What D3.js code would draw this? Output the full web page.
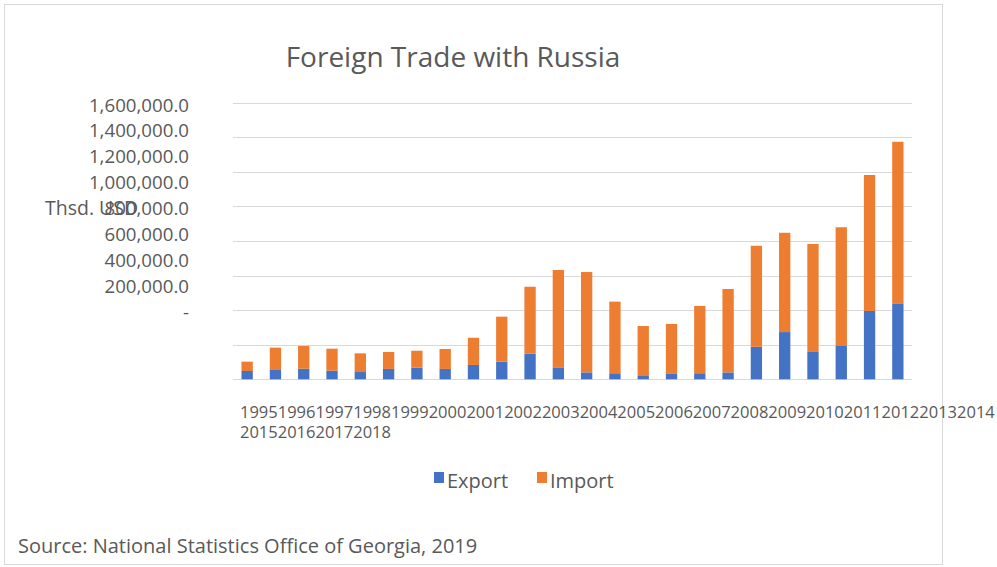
<!DOCTYPE html>
<html>
<head>
<meta charset="utf-8">
<style>
  body { margin: 0; background: #fff; }
  text { font-family: "Open Sans", sans-serif; fill: #595959; }
</style>
</head>
<body>
<div id="chart"></div>
<script src="https://cdn.jsdelivr.net/npm/d3@7"></script>
<script>
// data, thousand USD
var years = ["1995","1996","1997","1998","1999","2000","2001","2002","2003","2004","2005","2006",
             "2007","2008","2009","2010","2011","2012","2013","2014","2015","2016","2017","2018"];
var exportVals = [48000, 54000, 61000, 50000, 42000, 60000, 67000, 60000, 83000, 102000, 148000, 69000,
                  40000, 35000, 19000, 31000, 35000, 40000, 188000, 273000, 158000, 196000, 395000, 439000];
var importVals = [54000, 129000, 132000, 127000, 108000, 98000, 98000, 115000, 157000, 260000, 387000, 563000,
                  580000, 414000, 289000, 289000, 389000, 482000, 584000, 574000, 624000, 683000, 786000, 934000];
var yTicks = [0, 200000, 400000, 600000, 800000, 1000000, 1200000, 1400000, 1600000];
var seriesNames = ["Export", "Import"];
var colors = ["#4472C4", "#ED7D31"];

var W = 997, H = 567;
var svg = d3.select("#chart").append("svg").attr("width", W).attr("height", H);

// chart frame
svg.append("rect")
  .attr("x", 4.5).attr("y", 4.5).attr("width", 938).attr("height", 560)
  .attr("fill", "none").attr("stroke", "#d9d9d9");

svg.append("text")
  .attr("x", 453).attr("y", 67)
  .attr("text-anchor", "middle")
  .style("font-size", "28px")
  .text("Foreign Trade with Russia");

var x = d3.scaleBand().domain(years).range([233, 912]).paddingInner(0.6).paddingOuter(0.3);
var y = d3.scaleLinear().domain([0, 1600000]).range([379.3, 102.5]);
// the tick labels in the source sit on their own, tighter spacing
var yLab = d3.scaleLinear().domain([0, 1600000]).range([312, 105]);

// gridlines
svg.append("g").selectAll("line")
  .data(yTicks)
  .enter().append("line")
  .attr("x1", 233).attr("x2", 912)
  .attr("y1", function(d) { return Math.round(y(d)) + 0.5; })
  .attr("y2", function(d) { return Math.round(y(d)) + 0.5; })
  .attr("stroke", "#d9d9d9").attr("stroke-width", 1);

// y labels
var fmt = d3.format(",.1f");
svg.append("g").selectAll("text")
  .data(yTicks)
  .enter().append("text")
  .attr("x", 189)
  .attr("y", function(d) { return yLab(d); })
  .attr("dy", "0.35em")
  .attr("text-anchor", "end")
  .style("font-size", "18.7px")
  .text(function(d) { return d === 0 ? "-" : fmt(d); });

svg.append("text")
  .attr("x", 45).attr("y", 215)
  .style("font-size", "19.5px")
  .text("Thsd. USD");

// stacked bars
var rows = years.map(function(yr, i) { return { year: yr, Export: exportVals[i], Import: importVals[i] }; });
var stack = d3.stack().keys(seriesNames)(rows);

svg.append("g").selectAll("g")
  .data(stack)
  .enter().append("g")
  .attr("fill", function(d, i) { return colors[i]; })
  .selectAll("rect")
  .data(function(d) { return d; })
  .enter().append("rect")
  .attr("x", function(d) { return x(d.data.year); })
  .attr("width", x.bandwidth())
  .attr("y", function(d) { return y(d[1]); })
  .attr("height", function(d) { return y(d[0]) - y(d[1]); });

// x labels: all years run together and wrap, as in the source
var xl = svg.append("text")
  .attr("x", 240).attr("y", 418)
  .style("font-size", "16.5px");
var line = 0, tsp = null, maxW = 755;
years.forEach(function(yr) {
  if (tsp === null) {
    tsp = xl.append("tspan").attr("x", 240).attr("dy", line === 0 ? 0 : "1.2em").text(yr);
    return;
  }
  var prev = tsp.text();
  tsp.text(prev + yr);
  if (tsp.node().getComputedTextLength() > maxW) {
    tsp.text(prev);
    line++;
    tsp = xl.append("tspan").attr("x", 240).attr("dy", "1.2em").text(yr);
  }
});

// legend
var leg = svg.append("g");
var legX = [434, 537];
seriesNames.forEach(function(s, i) {
  leg.append("rect")
    .attr("x", legX[i]).attr("y", 472).attr("width", 10).attr("height", 11)
    .attr("fill", colors[i]);
  leg.append("text")
    .attr("x", legX[i] + 13).attr("y", 488)
    .style("font-size", "20px")
    .text(s);
});

svg.append("text")
  .attr("x", 18).attr("y", 553)
  .style("font-size", "20px")
  .text("Source: National Statistics Office of Georgia, 2019");
</script>
</body>
</html>
